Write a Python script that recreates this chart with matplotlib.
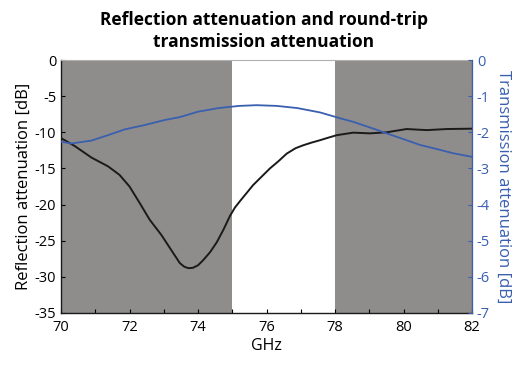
import matplotlib
matplotlib.use("Agg")
import matplotlib.pyplot as plt
import numpy as np

plt.rcParams["font.family"] = ["Open Sans", "DejaVu Sans"]
plt.rcParams["axes.unicode_minus"] = False

# frequency axis (GHz) and readings
refl_ghz = [70.0, 70.4, 70.89, 71.37, 71.71, 72.0, 72.3, 72.59, 72.93, 73.22,
            73.47, 73.6, 73.72, 73.85, 74.0, 74.15, 74.35, 74.55, 74.75, 74.93,
            75.08, 75.23, 75.61, 76.1, 76.35, 76.59, 76.85, 77.07, 77.3, 77.56,
            77.8, 78.05, 78.53, 79.02, 79.51, 80.09, 80.68, 81.26, 82.0]
refl_db = [-10.8, -11.9, -13.5, -14.7, -15.9, -17.5, -19.8, -22.1, -24.2, -26.3,
           -28.1, -28.6, -28.8, -28.75, -28.4, -27.7, -26.6, -25.2, -23.4, -21.6,
           -20.4, -19.5, -17.3, -15.0, -14.0, -12.95, -12.2, -11.8, -11.45, -11.1,
           -10.75, -10.4, -10.05, -10.15, -10.0, -9.55, -9.7, -9.55, -9.5]

trans_ghz = [70.0, 70.3, 70.89, 71.37, 71.86, 72.44, 73.03, 73.47, 74.0, 74.6,
             75.2, 75.71, 76.3, 76.9, 77.56, 78.18, 78.53, 79.0, 79.51, 80.0,
             80.48, 81.0, 81.45, 82.0]
trans_db = [-2.26, -2.31, -2.23, -2.08, -1.92, -1.80, -1.66, -1.58, -1.43, -1.33,
            -1.27, -1.25, -1.27, -1.33, -1.45, -1.62, -1.71, -1.86, -2.03, -2.19,
            -2.35, -2.47, -2.58, -2.68]

shade_spans = [(70, 75), (78, 82)]

xticks = [70, 72, 74, 76, 78, 80, 82]
left_ticks = [0, -5, -10, -15, -20, -25, -30, -35]
right_ticks = [0, -1, -2, -3, -4, -5, -6, -7]

blue = "#3a5fb0"
grey = "#8f8d8b"

fig = plt.figure(figsize=(5.28, 3.67), dpi=100)
ax = fig.add_axes([61/528, 1 - 313/367, (472-61)/528, (313-60)/367])

for a, b in shade_spans:
    ax.axvspan(a, b, color=grey, lw=0, zorder=0)

ax.plot(refl_ghz, refl_db, color="#1a1a1a", lw=1.4, zorder=3,
        solid_joinstyle="round")
ax.set_xlim(70, 82)
ax.set_ylim(-35, 0)
ax.set_xticks(xticks)
ax.set_xticks(np.arange(70, 83, 1), minor=True)
ax.set_yticks(left_ticks)
ax.tick_params(axis="both", direction="in", labelsize=10.5, length=3, width=0.8)
ax.tick_params(axis="x", which="minor", direction="in", length=3, width=0.8)
ax.tick_params(axis="x", pad=5)
ax.set_ylabel("Reflection attenuation [dB]", fontsize=12, labelpad=2)
ax.set_xlabel("GHz", fontsize=11.5, labelpad=2)
for s in ["left", "bottom"]:
    ax.spines[s].set_color("#1a1a1a")
    ax.spines[s].set_linewidth(1.0)
ax.spines["top"].set_color("#b0b0b0")

ax2 = ax.twinx()
ax2.plot(trans_ghz, trans_db, color=blue, lw=1.3, zorder=3,
         solid_joinstyle="round")
ax2.set_ylim(-7, 0)
ax2.set_yticks(right_ticks)
ax2.tick_params(axis="y", direction="in", colors=blue, labelsize=10.5, length=3, width=0.8)
ax2.set_ylabel("Transmission attenuation [dB]", color=blue, fontsize=12,
               rotation=270, labelpad=15)
ax2.spines["right"].set_color(blue)
ax2.spines["top"].set_visible(False)
ax2.spines["left"].set_visible(False)
ax2.spines["bottom"].set_visible(False)

fig.text(0.5, 1 - 31/367, "Reflection attenuation and round-trip\ntransmission attenuation",
         ha="center", va="center", fontsize=12.5, fontweight="bold", linespacing=1.3)

fig.savefig("out.png", dpi=100, facecolor="white")
